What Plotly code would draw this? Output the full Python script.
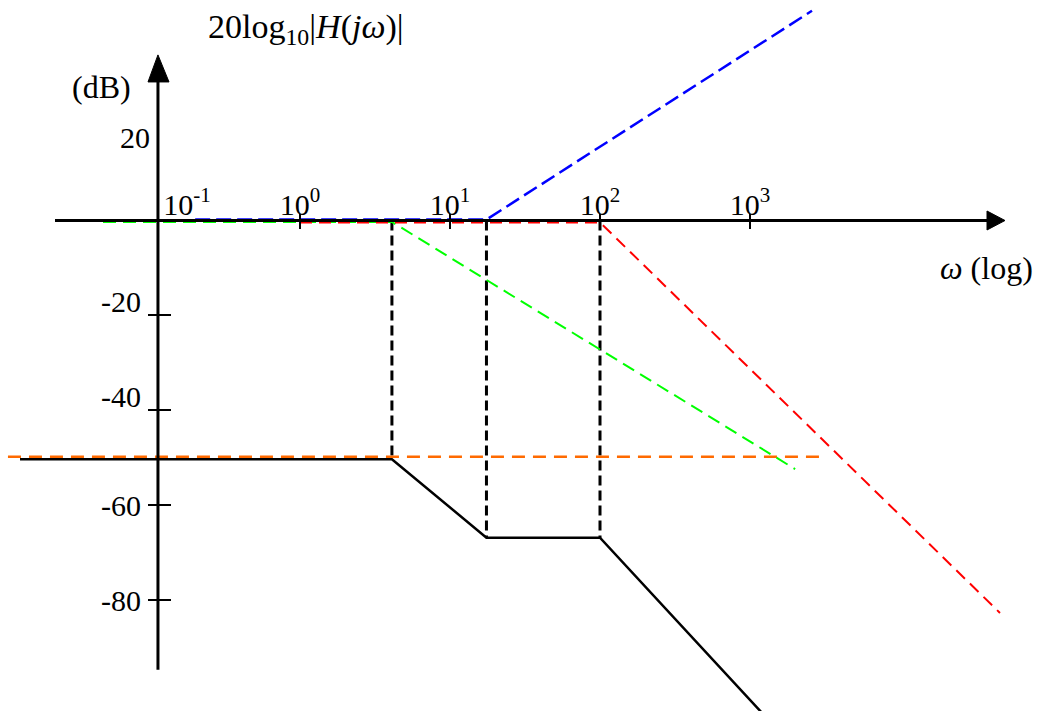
import math
import plotly.graph_objects as go

# ---------------- data ----------------
# asymptotic Bode magnitude curves: omega (rad/s, log) and dB
black_w = [0.0136, 4.1, 17.5, 100, 1360]
black_db = [-50.3, -50.3, -66.85, -66.85, -105.6]

orange_w = [0.0113, 2884]
orange_db = [-49.8, -49.8]

green_w = [0.0486, 4.1, 2000]
green_db = [-0.3, -0.3, -52.4]

red_w = [1.0, 100, 46400]
red_db = [-0.4, -0.4, -82.7]

blue_w = [0.2, 17.5, 2590]
blue_db = [0.2, 0.2, 44.2]

# dashed guide lines at the break frequencies (from 0 dB down to the black curve)
guide_w = [4.1, 17.5, 100]
guide_db = [-50.3, -66.85, -66.85]

# axis ticks / labels
x_tick_vals = [1, 10, 100, 1000]
x_tick_text = ["10<sup>0</sup>", "10<sup>1</sup>", "10<sup>2</sup>", "10<sup>3</sup>"]
x_first_val = [0.1]
x_first_text = ["10<sup>-1</sup>"]
y_tick_vals = [-80, -60, -40, -20]
y_lab_low_vals = [-80, -60]
y_lab_low_text = ["-80", "-60"]
y_lab_mid_vals = [-40, -20]
y_lab_mid_text = ["-40", "-20"]
y_lab_top_vals = [20]
y_lab_top_text = ["20"]

# ---------------- layout constants ----------------
W, H = 1040, 711
XR = [-2.0, 4.9333]          # log10(omega) range
YR = [-103.37, 46.47]        # dB range
Y_AXIS_W = 0.113             # omega where the vertical axis is drawn
FONT = "Liberation Serif"

def xfrac(w):
    return (math.log10(w) - XR[0]) / (XR[1] - XR[0])

def yfrac(db):
    return (db - YR[0]) / (YR[1] - YR[0])

px_x = xfrac(Y_AXIS_W)   # paper position of the vertical axis
px_y = yfrac(0)          # paper position of the horizontal axis

fig = go.Figure()

def guide_xy():
    xs, ys = [], []
    for w, d in zip(guide_w, guide_db):
        xs += [w, w, None]
        ys += [0, d, None]
    return xs, ys

gx, gy = guide_xy()
fig.add_trace(go.Scatter(x=gx, y=gy, mode="lines",
                         line=dict(color="black", width=3, dash="10px,5px"),
                         hoverinfo="skip", showlegend=False))
fig.add_trace(go.Scatter(x=black_w, y=black_db, mode="lines",
                         line=dict(color="black", width=2.5),
                         showlegend=False))
fig.add_trace(go.Scatter(x=orange_w, y=orange_db, mode="lines",
                         line=dict(color="#FF6A00", width=2.5, dash="13px,8px"),
                         showlegend=False))
fig.add_trace(go.Scatter(x=green_w, y=green_db, mode="lines",
                         line=dict(color="#00FF00", width=2, dash="13px,7px"),
                         showlegend=False))
fig.add_trace(go.Scatter(x=red_w, y=red_db, mode="lines",
                         line=dict(color="#FF0000", width=2, dash="12px,7px"),
                         showlegend=False))
fig.add_trace(go.Scatter(x=blue_w, y=blue_db, mode="lines",
                         line=dict(color="#0000FF", width=2.5, dash="15px,6px"),
                         showlegend=False))

hidden = dict(showgrid=False, zeroline=False, showline=False, ticks="",
              showticklabels=False)

base_x = dict(type="log", range=XR, **hidden)
base_y = dict(range=YR, **hidden)

tickfont = dict(family=FONT, size=30, color="black")

def xo(**kw):
    d = dict(type="log", range=XR, overlaying="x", anchor="free", position=px_y,
             showgrid=False, zeroline=False, showline=False)
    d.update(kw)
    return d

def yo(**kw):
    d = dict(range=YR, overlaying="y", anchor="free", position=px_x,
             showgrid=False, zeroline=False, showline=False)
    d.update(kw)
    return d

fig.update_layout(
    width=W, height=H,
    margin=dict(l=0, r=0, t=0, b=0),
    paper_bgcolor="white", plot_bgcolor="white",
    showlegend=False,
    xaxis=dict(domain=[0, 1], **base_x),
    yaxis=dict(domain=[0, 1], **base_y),
    # x tick marks (upper and lower halves)
    xaxis2=xo(side="top", tickmode="array", tickvals=x_tick_vals, ticks="outside",
              ticklen=7, tickwidth=2, tickcolor="black", showticklabels=False),
    xaxis3=xo(side="bottom", tickmode="array", tickvals=x_tick_vals, ticks="outside",
              ticklen=7, tickwidth=2, tickcolor="black", showticklabels=False),
    # x tick labels
    xaxis4=xo(side="top", tickmode="array", tickvals=x_tick_vals, ticktext=x_tick_text,
              ticks="", tickfont=tickfont, ticklabelstandoff=0),
    xaxis5=xo(side="top", tickmode="array", tickvals=x_first_val, ticktext=x_first_text,
              ticks="", tickfont=tickfont, ticklabelstandoff=0, ticklabelshift=37),
    # y tick marks (left and right halves)
    yaxis2=yo(side="left", tickmode="array", tickvals=y_tick_vals, ticks="outside",
              ticklen=10, tickwidth=2, tickcolor="black", showticklabels=False),
    yaxis3=yo(side="right", tickmode="array", tickvals=y_tick_vals, ticks="outside",
              ticklen=12, tickwidth=2, tickcolor="black", showticklabels=False),
    # y tick labels
    yaxis4=yo(side="left", tickmode="array", tickvals=y_lab_low_vals, ticktext=y_lab_low_text,
              ticks="", tickfont=tickfont, ticklabelstandoff=17),
    yaxis5=yo(side="left", tickmode="array", tickvals=y_lab_mid_vals, ticktext=y_lab_mid_text,
              ticks="", tickfont=tickfont, ticklabelstandoff=17, ticklabelshift=-14),
    yaxis6=yo(side="left", tickmode="array", tickvals=y_lab_top_vals, ticktext=y_lab_top_text,
              ticks="", tickfont=tickfont, ticklabelstandoff=8, ticklabelshift=12),
)

# invisible anchor traces so every overlay axis is instantiated
for xa, ya in [("x2", "y"), ("x3", "y"), ("x4", "y"), ("x5", "y"),
               ("x", "y2"), ("x", "y3"), ("x", "y4"), ("x", "y5"), ("x", "y6")]:
    fig.add_trace(go.Scatter(x=[None], y=[None], xaxis=xa, yaxis=ya,
                             mode="lines", showlegend=False, hoverinfo="skip"))

# ---------------- arrow axes ----------------
ax_col = "black"
# horizontal axis line + arrowhead
fig.add_shape(type="line", xref="paper", yref="y", x0=55 / W, x1=992 / W, y0=0, y1=0,
              line=dict(color=ax_col, width=3))
fig.add_shape(type="path", xref="paper", yref="y",
              path=f"M {987 / W},{2.0} L {1005 / W},0 L {987 / W},{-2.0} Z",
              fillcolor=ax_col, line=dict(color=ax_col, width=1))
# vertical axis line + arrowhead
fig.add_shape(type="line", xref="paper", yref="y", x0=px_x, x1=px_x, y0=-94.7, y1=30,
              line=dict(color=ax_col, width=3))
fig.add_shape(type="path", xref="paper", yref="y",
              path=f"M {148 / W},29.2 L {px_x},34.9 L {169 / W},29.2 Z",
              fillcolor=ax_col, line=dict(color=ax_col, width=1))

# ---------------- text ----------------
txt = dict(family=FONT, size=32, color="black")
fig.add_annotation(xref="paper", yref="paper", x=206 / W, y=1 - 29 / H,
                   xanchor="left", yanchor="middle", showarrow=False,
                   text="20log<sub>10</sub>|<i>H</i>(<i>jω</i>)|",
                   font=dict(family=FONT, size=34, color="black"))
fig.add_annotation(xref="paper", yref="paper", x=101 / W, y=1 - 87 / H,
                   xanchor="center", yanchor="middle", showarrow=False,
                   text="(dB)", font=txt)
fig.add_annotation(xref="paper", yref="paper", x=938 / W, y=1 - 268 / H,
                   xanchor="left", yanchor="middle", showarrow=False,
                   text="<i>ω</i> (log)", font=txt)

fig.write_html("out.html")
